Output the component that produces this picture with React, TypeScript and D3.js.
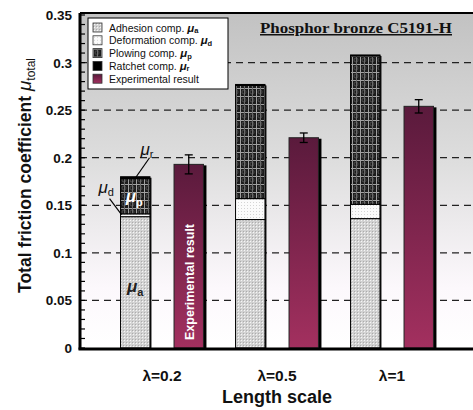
import React from "react";
import * as d3 from "d3";

// length scale groups
const categories = ["λ=0.2", "λ=0.5", "λ=1"];
// calculated components of friction coefficient
const adhesion = [0.138, 0.135, 0.136];
const deformation = [0.003, 0.022, 0.015];
const plowing = [0.037, 0.119, 0.156];
const ratchet = [0.002, 0.001, 0.001];
// measured values
const experimental = [0.193, 0.221, 0.254];
const expError = [0.010, 0.005, 0.007];
const yTicks = [0, 0.05, 0.1, 0.15, 0.2, 0.25, 0.3, 0.35];

const W = 473, H = 410;
const left = 80, top = 13, bottom = 348, right = 490;

export default function App() {
  const y = d3.scaleLinear().domain([0, 0.35]).range([bottom, top + 2]);
  const x = d3.scaleBand().domain(categories).range([104.5, 449.5]).padding(0);
  const inner = d3.scaleBand().domain(["calc", "exp"]).range([0, x.bandwidth()]).paddingInner(0.45).paddingOuter(0.3);
  const bw = inner.bandwidth();
  const minor = d3.range(0, 0.3501, 0.01);

  const stacks = d3.stack<number>()
    .keys(["a", "d", "p", "r"])
    .value((i, k) => ({ a: adhesion, d: deformation, p: plowing, r: ratchet } as any)[k][i])(d3.range(categories.length));
  const fills: Record<string, string> = { a: "url(#pA)", d: "url(#pD)", p: "url(#pP)", r: "#000" };

  const legend = [
    { fill: "url(#pA)", label: "Adhesion comp. ", sym: "a" },
    { fill: "url(#pD)", label: "Deformation comp. ", sym: "d" },
    { fill: "url(#pP)", label: "Plowing comp. ", sym: "p" },
    { fill: "#000", label: "Ratchet comp. ", sym: "r" },
    { fill: "url(#gExp)", label: "Experimental result", sym: "" },
  ];

  const c0 = categories[0];
  const sx0 = (x(c0) as number) + (inner("calc") as number);
  const ex0 = (x(c0) as number) + (inner("exp") as number);
  const top0 = adhesion[0] + deformation[0] + plowing[0] + ratchet[0];

  return (
    <svg width={W} height={H} style={{ position: "absolute", left: 0, top: 0 }} fontFamily="Liberation Sans, Arial, sans-serif">
      <defs>
        <linearGradient id="gBg" x1="0" y1="0" x2="0" y2="1">
          <stop offset="0" stopColor="#c2c2c2" />
          <stop offset="0.45" stopColor="#dedede" />
          <stop offset="0.82" stopColor="#fcf8fc" />
          <stop offset="1" stopColor="#ffffff" />
        </linearGradient>
        <linearGradient id="gExp" x1="0" y1="0" x2="0" y2="1">
          <stop offset="0" stopColor="#5a1a3c" />
          <stop offset="1" stopColor="#a3305f" />
        </linearGradient>
        <pattern id="pA" width="3" height="3" patternUnits="userSpaceOnUse">
          <rect width="3" height="3" fill="#d2d2d2" />
          <rect x="1" y="1" width="1" height="1" fill="#f6f6f6" />
          <rect x="0" y="0" width="1" height="1" fill="#acacac" />
        </pattern>
        <pattern id="pD" width="3" height="3" patternUnits="userSpaceOnUse">
          <rect width="3" height="3" fill="#fbfbfb" />
          <rect x="1" y="1" width="1" height="1" fill="#d4d4d4" />
        </pattern>
        <pattern id="pP" width="8" height="8" patternUnits="userSpaceOnUse">
          <rect width="8" height="8" fill="#1c1c1c" />
          <circle cx="4" cy="4" r="2" fill="none" stroke="#555" strokeWidth="0.8" />
          <rect x="0" y="0" width="8" height="1" fill="#a0a0a0" />
          <rect x="0" y="0" width="1" height="8" fill="#a0a0a0" />
          <rect x="4" y="0" width="1" height="8" fill="#6a6a6a" />
        </pattern>
      </defs>

      <rect x={left} y={top} width={right - left} height={bottom - top} fill="url(#gBg)" />

      {yTicks.filter(t => t > 0 && t < 0.35).map(t => (
        <line key={t} x1={left} x2={W} y1={y(t)} y2={y(t)} stroke="#222" strokeWidth={1.3} strokeDasharray="7,5" />
      ))}

      {/* calculated stacked bars */}
      {categories.map((c, i) => {
        const bx = (x(c) as number) + (inner("calc") as number);
        const tot = adhesion[i] + deformation[i] + plowing[i] + ratchet[i];
        return (
          <g key={c}>
            <rect x={bx + 1.5} y={y(tot) + 1} width={bw} height={bottom - y(tot)} fill="#111" />
            {stacks.map(s => (
              <rect key={s.key} x={bx} y={y(s[i][1])} width={bw} height={y(s[i][0]) - y(s[i][1])}
                fill={fills[s.key]} stroke="#000" strokeWidth={1} />
            ))}
          </g>
        );
      })}

      {/* experimental bars */}
      {categories.map((c, i) => {
        const bx = (x(c) as number) + (inner("exp") as number);
        const cx = bx + bw / 2;
        return (
          <g key={c}>
            <rect x={bx + 3} y={y(experimental[i]) + 1} width={bw} height={bottom - y(experimental[i])} fill="#000" />
            <rect x={bx} y={y(experimental[i])} width={bw} height={bottom - y(experimental[i])} fill="url(#gExp)" stroke="#222" strokeWidth={1} />
            <line x1={cx} x2={cx} y1={y(experimental[i] + expError[i])} y2={y(experimental[i] - expError[i])} stroke="#000" strokeWidth={1.3} />
            <line x1={cx - 4} x2={cx + 4} y1={y(experimental[i] + expError[i])} y2={y(experimental[i] + expError[i])} stroke="#000" strokeWidth={1.3} />
            <line x1={cx - 4} x2={cx + 4} y1={y(experimental[i] - expError[i])} y2={y(experimental[i] - expError[i])} stroke="#000" strokeWidth={1.3} />
          </g>
        );
      })}

      {/* annotations on the first group */}
      <text transform={`translate(${ex0 + bw / 2 + 5},${bottom - 8}) rotate(-90)`} fill="#fff" fontWeight="bold" fontSize={12.5}>Experimental result</text>
      <text x={sx0 + bw / 2} y={y(adhesion[0] / 2) + 10} textAnchor="middle" fontSize={17} fontStyle="italic" fontWeight="bold" fill="#222">μ<tspan fontSize={11} fontStyle="normal" dy={4}>a</tspan></text>
      <text x={sx0 + bw / 2 - 1} y={y(adhesion[0] + deformation[0] + plowing[0] / 2) + 6} textAnchor="middle" fontSize={17} fontStyle="italic" fontWeight="bold" fill="#fff">μ<tspan fontSize={11} fontStyle="normal" dy={4}>p</tspan></text>
      <text x={sx0 + 20} y={y(top0) - 22} fontSize={17} fontStyle="italic" fill="#111">μ<tspan fontSize={11} fontStyle="normal" dy={3}>r</tspan></text>
      <line x1={sx0 + 29} y1={y(top0) - 19} x2={sx0 + 15} y2={y(top0) + 1} stroke="#000" strokeWidth={1.2} />
      <text x={sx0 - 22} y={y(adhesion[0]) - 24} fontSize={17} fontStyle="italic" fill="#111">μ<tspan fontSize={11} fontStyle="normal" dy={3}>d</tspan></text>
      <line x1={sx0 - 11} y1={y(adhesion[0]) - 18} x2={sx0 + 1} y2={y(adhesion[0]) - 2} stroke="#000" strokeWidth={1.2} />

      {/* legend */}
      <rect x={88} y={18} width={140} height={71} fill="#fff" stroke="#000" strokeWidth={1} />
      {legend.map((l, i) => (
        <g key={l.label} transform={`translate(93,${23 + i * 12.8})`}>
          <rect width={9} height={9} fill={l.fill} stroke="#333" strokeWidth={0.8} />
          <text x={16} y={8.5} fontSize={10.5} fill="#111">{l.label}
            {l.sym && <tspan fontStyle="italic" fontWeight="bold" fontSize={11.5}>μ</tspan>}
            {l.sym && <tspan fontSize={7.5} fontWeight="bold" dy={1.5}>{l.sym}</tspan>}
          </text>
        </g>
      ))}

      <text x={260} y={33} fontFamily="Liberation Serif, Times New Roman, serif" fontWeight="bold" fontSize={15} textLength={192} lengthAdjust="spacingAndGlyphs" fill="#111" textDecoration="underline">Phosphor bronze C5191-H</text>

      {/* frame and axes */}
      <line x1={left} x2={W} y1={top} y2={top} stroke="#000" strokeWidth={2} />
      <line x1={left} x2={left} y1={top} y2={bottom + 1.5} stroke="#000" strokeWidth={3} />
      <line x1={left - 1.5} x2={W} y1={bottom + 1} y2={bottom + 1} stroke="#000" strokeWidth={3} />
      {minor.map(t => (
        <line key={t} x1={left} x2={left + 5} y1={y(t)} y2={y(t)} stroke="#000" strokeWidth={1.2} />
      ))}
      {yTicks.map(t => (
        <text key={t} x={72} y={y(t) + 5} textAnchor="end" fontWeight="bold" fontSize={13.5} fill="#111">{d3.format("")(+t.toFixed(2))}</text>
      ))}

      {categories.map(c => (
        <text key={c} x={(x(c) as number) + x.bandwidth() / 2} y={381} textAnchor="middle" fontWeight="bold" fontSize={15.5} fill="#111">{c}</text>
      ))}
      <text x={(x(categories[1]) as number) + x.bandwidth() / 2} y={403} textAnchor="middle" fontWeight="bold" fontSize={18} fill="#111">Length scale</text>

      <text transform={`translate(31,${(top + bottom) / 2 - 5}) rotate(-90)`} textAnchor="middle" fontWeight="bold" fontSize={17.5} fill="#111">
        Total friction coefficient <tspan fontStyle="italic" fontWeight="normal" fontSize={19}>μ</tspan><tspan fontSize={12} fontWeight="normal" dy={4}>total</tspan>
      </text>
    </svg>
  );
}
